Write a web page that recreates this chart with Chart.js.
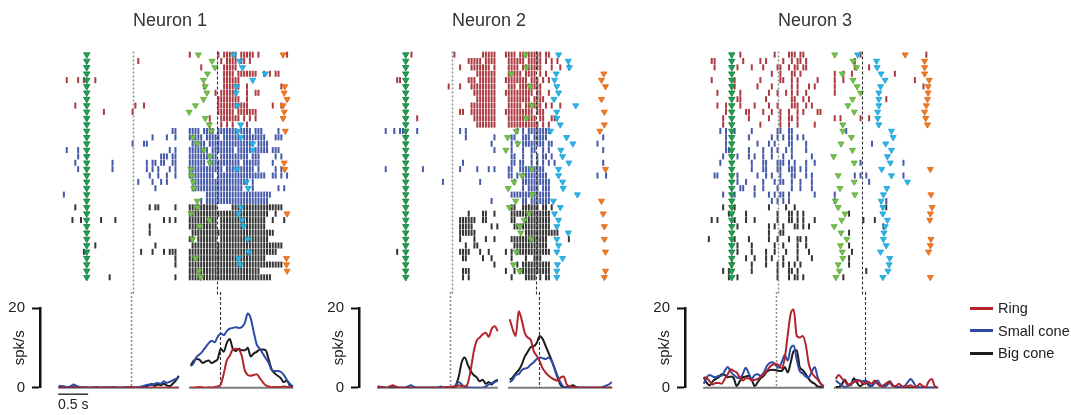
<!DOCTYPE html>
<html>
<head>
<meta charset="utf-8">
<script src="https://cdn.jsdelivr.net/npm/chart.js@4.4.1/dist/chart.umd.min.js"></script>
<style>
  html, body { margin: 0; padding: 0; background: #fff; }
  body { width: 1071px; height: 415px; position: relative; overflow: hidden; font-family: 'Liberation Sans', Arial, sans-serif; }
  .box { position: absolute; }
  #legend { position: absolute; left: 970px; top: 297px; }
  .item { height: 22.5px; display: flex; align-items: center; font-size: 14.5px; color: #222; }
  .swatch { width: 23px; height: 3px; margin-right: 5px; }
</style>
</head>
<body>
<div class="box" style="left:40px;top:0;width:260px;height:295px"><canvas id="raster1"></canvas></div>
<div class="box" style="left:359px;top:0;width:260px;height:295px"><canvas id="raster2"></canvas></div>
<div class="box" style="left:685px;top:0;width:260px;height:295px"><canvas id="raster3"></canvas></div>
<div class="box" style="left:0;top:292px;width:300px;height:123px"><canvas id="psth1"></canvas></div>
<div class="box" style="left:319px;top:292px;width:300px;height:123px"><canvas id="psth2"></canvas></div>
<div class="box" style="left:645px;top:292px;width:300px;height:123px"><canvas id="psth3"></canvas></div>
<div id="legend"></div>
<script>
// time axis (s): 0 = aligned event (green column)
const BIN = 0.05;
const RASTER_START = -0.45;   // time of spike bin 0
const PRE_START = -0.40;      // first PSTH bin, first segment
const POST_START = 1.80;      // first PSTH bin, second segment
const CUE_TIME = 0.8;         // grey dotted line
const CONTACT_TIME = 2.28;    // black dashed line
const X_MIN = -0.712, X_MAX = 3.621;
const SEGMENTS = [[-0.41, 1.60], [1.77, 3.51]];
const SCALE_BAR = 0.5;

const conditions = ['Ring', 'Small cone', 'Big cone'];
const lineColors = ['#b3232a', '#2d4ca6', '#1c1c1c'];
const tickColors = ['rgba(158,24,32,0.85)', 'rgba(36,60,154,0.85)', 'rgba(16,16,16,0.85)'];

// ---- Neuron 1: spike bins per trial ----
const n1RingSpikes = [
  [45,55,57,58,59,60,61,63,64,65,66,67,69,79],
  [27,56,58,59,60,61,63,64,66],
  [49,57,58,59,60,61],
  [57,58,59,60,62,63,64,65,66,67,68,71,73,75,76],
  [2,6,8,12,57,58,59,60,61,62],
  [50,57,58,59,60,61,62,65,77],
  [54,56,57,58,59,60,61,65,68,69],
  [55,56,57,58,59,60,61,62,65],
  [5,26,29,55,56,57,58,59,60,61,62,63,64,65,74,77],
  [15,25,55,56,57,58,59,60,62,63,64,65,66,67,68],
  [52,56,57,58,59,60,61,62,64,66,68],
  [52,56,58,60,65]
];
const n1SmallSpikes = [
  [39,40,45,46,47,48,50,51,52,53,55,56,57,58,59,60,61,63,64,65,66,68,69,70,76],
  [32,37,40,45,46,47,48,49,51,52,53,54,55,57,58,59,60,61,62,64,65,66,67,68,69,70,71,75,76,77],
  [25,29,30,46,47,48,49,50,52,53,54,55,56,57,58,59,60,61,62,63,64,65,66,67,69,70,71,72],
  [2,6,38,40,45,46,47,48,49,50,51,53,54,55,56,57,58,59,60,62,63,64,65,66,68,69,70,71,72,74,75,76],
  [6,35,36,37,39,40,45,46,47,48,49,50,51,52,53,54,56,57,58,59,60,61,62,63,64,65,67,68,69,75,77],
  [5,18,30,32,33,35,36,39,40,45,46,47,48,49,50,52,53,54,55,56,57,58,59,60,61,62,64,65,66,67,68,69,74],
  [6,18,30,32,34,38,40,45,46,47,48,49,50,51,52,53,54,55,56,58,59,60,61,62,63,64,65,66,67,69,75,77],
  [31,34,37,40,45,46,47,48,49,50,51,52,53,55,56,57,58,59,60,61,62,63,64,65,66,67,68,69,70,71,74,75,77,79],
  [27,32,35,37,46,47,48,49,50,51,52,53,54,55,56,57,58,59,60,61,62,63,64,65,67],
  [33,46,47,48,49,50,51,52,53,54,55,56,57,58,59,60,61,62,63,67,76,78],
  [1,51,52,53,54,55,56,57,58,59,60,61,62,63,64,65,66,67,68,69,70,71,72,73],
  [49,51,52,53,54,55,56,57,58,59,60,61,62,63,64,65,66,67,68,69,70,71,72]
];
const n1BigSpikes = [
  [5,31,33,34,40,45,46,47,48,49,50,51,52,53,54,60,61,62,63,64,65,66,67,68,69,70,71,72,73,74,75,76,77],
  [45,46,47,48,49,50,51,52,53,54,55,56,57,58,59,60,61,62,63,64,65,66,67,68,69,70,71,72,75],
  [4,7,14,19,36,38,40,45,46,47,48,49,50,51,52,53,54,56,57,58,59,60,61,62,63,64,65,66,67,68,69,70,71,74,78],
  [31,45,46,47,48,49,50,51,52,53,54,56,57,58,59,60,61,62,63,64,65,66,67,68,69,70,71],
  [31,46,47,48,49,50,51,52,53,54,55,56,57,58,59,60,61,62,63,64,65,66,67,68,69,70,71,72,73,74],
  [45,46,48,49,50,51,52,53,54,56,57,58,59,60,61,62,63,64,65,66,67,68,69,70,71,72],
  [12,33,46,47,48,49,50,51,52,53,54,55,56,57,58,59,60,61,62,63,64,65,66,67,68,69,70,71,72,73,74,75,76,77],
  [8,28,32,36,38,39,40,45,46,47,48,49,50,51,52,53,54,55,56,57,58,59,60,61,62,63,64,65,66,67,68,69,70,71,72,73,74,75],
  [40,45,46,47,48,49,50,51,52,53,54,55,56,57,58,59,60,61,62,63,64,65,66,67,68,69,70,71],
  [40,45,46,47,48,49,50,51,52,53,54,55,56,57,58,59,60,61,62,63,64,65,66,67,68,69,70,71,72,73,74,75,76,77],
  [45,46,47,48,49,50,51,52,53,54,55,56,57,58,59,60,61,62,63,64,65,66,67,68,69],
  [17,40,45,46,47,48,49,50,51,52,53,54,55,56,57,58,59,60,61,62,63,64,65,66,67,68,69,70,71,72,73]
];
// event markers per trial (s), rows: Ring, Small cone, Big cone
const n1Green = [1.95,2.19,2.24,2.11,2.04,2.07,2.10,2.04,1.90,1.79,2.07,2.14, 2.18,1.86,1.93,2.04,2.15,2.15,1.82,1.83,1.86,1.87,null,1.93, 1.93,1.82,2.14,1.97,null,1.85,null,null,1.90,null,1.96,1.99];
const n1Cyan = [2.57,2.67,2.72,3.12,2.90,2.62,2.61,null,2.63,null,null,2.69, 2.64,2.69,2.90,2.90,null,null,2.62,null,2.79,2.82,null,null, 2.69,2.65,2.72,2.74,null,2.82,null,2.83,2.65,2.68,null,null];
const n1Orange = [3.43,null,null,null,null,3.46,3.45,3.50,3.43,3.45,3.43,null, 3.47,null,null,null,null,3.45,3.46,null,null,null,null,null, null,3.50,null,null,null,null,null,null,3.49,3.49,3.50,null];
// PSTH (spk/s), first and second segment
const n1RingPre = [0.1,0.1,0,0,0,0.1,0,0,0,0, 0,0,0.1,0,0,0,0.1,0,0,0, 0,0,0,0.1,0.2,0.1,0,0,0,0, 0,0,0.1,0,0,0,0,0.1,0,0, 0.1];
const n1RingPost = [0.1,0,0.1,0.2,0.1,0,0.1,0,0.2,0.3, 0.8,3.5,6.8,8.0,9.6,9.8,9.6,8.0,4.4,3.2, 3.0,3.2,3.4,2.4,1.4,0.6,0.3,0.1,0.2,0.2, 0.2,0.3,0.2,0.1,0];
const n1SmallPre = [0.5,0.4,0.3,0.2,0.4,0.8,0.4,0.2, 0.1,0.1,0,0,0.1,0,0,0.1,0,0, 0,0.1,0,0,0.1,0.1,0,0,0.1, 0.2,0.4,0.6,0.8,0.6,1.0,1.2,1.0,1.6,1.2,1.5,1.8,2.2,2.6];
const n1SmallPost = [5.4,6.2,7.8,8.4,9.2,10.2,11.2,11.8,11.4,12.8, 13.6,13.2,14.2,14.8,15.0,15.2,15.0,15.2,16.2,18.6, 17.4,14.0,10.8,9.8,8.6,7.4,6.2,4.4,4.2,4.2, 4.0,3.2,2.0,1.0,0.3];
const n1BigPre = [0.2,0.1,0.1,0,0.1,0.2,0.1,0,0,0, 0,0,0,0.1,0,0,0,0,0.1,0, 0,0,0,0,0.1,0,0,0,0.1, 0.2,0.6,0.9,0.5,0.8,0.6,1.0,0.6,0.4,1.0,1.8,3.0];
const n1BigPost = [5.6,6.8,7.2,7.0,6.2,6.6,6.8,6.2,6.6,7.2, 9.8,9.0,11.2,12.2,9.8,9.2,9.8,9.4,9.4,10.0, 7.8,8.6,9.0,9.6,9.6,9.4,7.0,4.6,3.6,3.0, 2.4,1.4,1.8,0.6,0.2];

// ---- Neuron 2 ----
const n2RingSpikes = [
  [11,26,36,37,38,39,40,44,45,46,47,49,50,51,52,53,54,55,56,58,59],
  [31,32,33,34,35,37,38,39,40,45,46,47,48,49,50,52,53,54,55,56,58,60,62],
  [28,32,33,34,35,36,37,38,40,45,46,47,48,50,51,52,53,54,55,56,60,63,66],
  [34,35,36,37,38,39,40,45,46,47,48,49,51,52,53,54,56,58],
  [6,7,31,32,33,35,36,37,38,39,40,44,45,46,47,48,49,50,51,53,54,55,57,59],
  [24,28,32,33,34,35,36,37,38,39,40,45,46,47,49,50,51,52,53,54,55,56],
  [33,34,35,36,37,38,39,40,44,45,46,47,48,49,50,51,52,53,55,56,59],
  [34,35,36,37,38,39,40,45,46,47,48,49,50,51,52,54,55,56,57],
  [32,33,34,35,36,37,38,39,40,45,46,47,48,49,51,52,53,54,55,56,58,60,63],
  [28,29,32,33,34,35,36,37,38,39,40,44,45,46,47,48,49,50,51,52,53,55,56,57],
  [13,33,34,35,36,37,38,39,40,45,46,47,48,49,50,51,52,53,54,56,57,60,61],
  [34,35,36,37,38,39,40,45,46,47,48,49,50,51,52,53,54,55,57,59]
];
const n2SmallSpikes = [
  [2,5,7,8,13,28,30,48,50,52,53,54,55,56,57,58,59],
  [30,40,46,47,50,51,52,54,55,56,57,58,78],
  [39,46,48,50,51,52,53,54,55,56,57,59,60,76],
  [40,46,50,53,54,57,59,78],
  [46,47,50,53,55,57,58,60],
  [29,46,47,49,50,53,55,57,59,61,78],
  [2,15,28,34,38,40,45,46,49,50,51,52,53,54,55,56,57],
  [45,46,48,50,51,52,53,54,55,56,57,58,76,79],
  [22,35,47,50,51,52,53,54,55,56,57,58,59],
  [50,52,53,54,55,57,58,59],
  [46,47,48,49,50,51,52,53,54,55,56,57,58,59],
  [39,50,51,53,54,55,56,57,58,59]
];
const n2BigSpikes = [
  [46,47,50,51,52,53,54,55,57,58,60],
  [31,36,37,40,46,47,48,49,50,51,52,53,54,55,56,57,58,59],
  [28,29,30,31,32,33,36,37,46,47,51,52,53,54,55,56,57,58,59],
  [28,29,30,31,32,39,41,47,48,49,50,51,52,53,54,55,56,57,58,59],
  [28,29,30,31,32,33,51,52,53,54,55,56,57,58,59,60,61,62],
  [28,33,37,40,46,47,48,49,50,51,52,53,54,55,56,57,58,66],
  [30,33,34,47,48,49,50,51,52,53,54,55,56,57,58],
  [6,28,29,30,31,35,38,44,46,48,49,50,51,52,53,54,55,56,57,58,59],
  [29,30,36,39,46,51,54,55,56],
  [40,48,50,51,52,53,54,55,56,57,58,59],
  [29,30,31,44,47,49,50,51,52,53,54,55,56,57,58,59],
  [29,31,46,51,52,53,54,56,58,59]
];
const n2Green = [2.09,null,2.11,1.84,null,2.17,null,null,2.20,null,2.11,null, 1.93,1.78,1.96,1.75,null,null,2.20,2.03,1.89,1.79,2.21,1.92, 1.81,2.15,2.07,1.99,2.01,2.19,null,1.93,null,1.88,1.99,null];
const n2Cyan = [2.67,2.84,2.86,2.63,2.60,2.64,2.67,2.59,2.97,2.64,2.64,2.70, 2.53,2.81,2.92,2.71,2.74,2.85,2.67,2.67,2.74,2.75,3.00,2.58, 2.70,2.60,2.67,2.64,2.84,2.64,2.67,2.64,2.74,2.65,2.64,2.64];
const n2Orange = [null,null,null,3.46,3.42,3.49,null,3.42,null,3.47,null,3.47, 3.39,null,null,null,null,null,3.49,null,null,null,null,3.42, null,3.45,null,3.47,null,3.47,null,3.49,null,null,3.49,3.47];
const n2RingPre = [0.3,0.1,0,0,0.3,0.6,0.3,0,0,0, 0,0,0,0,0,0,0,0,0,0, 0,0,0.1,0.2,0.1,0.3,0.2,0.6,0.4,0.3, 1.0,4.5,9.0,11.8,12.6,13.4,13.8,12.8,14.8,15.4, 14.2];
const n2RingPost = [17.2,14.6,13.0,19.2,17.0,13.8,12.6,12.0,9.2,8.0, 6.6,4.8,3.8,3.0,2.4,2.0,1.8,2.6,2.8,0.8, 0.4,0.2,0.1,0,0,0,0,0,0,0, 0,0,0,0,0];
const n2SmallPre = [0.4,0.2,0.1,0,0.2,0.5,0.2,0,0,0, 0.3,0.6,0.2,0,0,0,0,0,0,0, 0,0.3,0,0,0,0,0.5,1.4,0.8,0.2, 0.1,0,0,0,0,0,0.3,0.8,1.2,1.4, 1.8];
const n2SmallPost = [1.4,2.0,3.2,3.4,4.4,4.8,5.0,5.8,6.4,7.2, 7.6,7.4,7.2,7.6,6.6,4.8,2.8,1.2,0.2,0.1, 0,0,0,0,0,0,0,0,0,0, 0,0.2,0.5,0.8,1.4];
const n2BigPre = [0,0.2,0,0,0,0.3,0.1,0,0,0, 0,0,0,0,0,0,0,0,0,0, 0,0,0,0,0,0.2,0.6,2.8,6.4,7.6, 5.8,4.2,3.2,2.6,1.6,2.0,1.0,1.4,0.8,1.6, 2.0];
const n2BigPost = [2.0,2.6,3.6,4.4,5.8,7.8,9.0,10.2,10.4,11.2, 13.0,12.2,10.4,8.6,6.8,4.6,2.4,0.6,0.2,0.1, 0.2,0.6,0.2,0,0,0,0,0,0,0, 0,0,0,0,0];

// ---- Neuron 3 ----
const n3RingSpikes = [
  [12,24,29,30,31,33,34,54,77],
  [2,3,13,19,21,27,30,32,33,35,52],
  [3,11,16,20,25,26,29,31,32,34,35,52,57],
  [23,26,30,31,33,45,48,51,66],
  [2,10,19,26,27,30,32,39,45,48,73],
  [10,18,23,30,32,36,38,45,76],
  [4,12,22,25,28,30,32,35,45],
  [11,12,21,30,31,34,36,63],
  [4,7,12,17,22,25,30,31,32,35,37],
  [7,14,15,20,23,26,29,32,34,39,40],
  [6,15,22,26,29,30,32,45,47,54,57],
  [6,19,26,29,32,38]
];
const n3SmallSpikes = [
  [5,7,10,16,25,26,29,30,49],
  [7,15,23,25,27,29,30,32,34],
  [7,18,22,24,29,30,35,58],
  [7,8,15,20,23,25,28,30,35],
  [6,11,15,17,20,23,27,30,37],
  [5,16,20,21,25,26,27,29,31,35,38,54,69],
  [16,20,21,25,26,29,30,31,33,35],
  [3,4,11,18,21,23,26,30,31,35,37,52,54,56,69],
  [11,14,20,24,26,27,30,33,37,57],
  [12,13,17,20,25,30,33,37],
  [6,10,17,22,24,26,27,29,38,45],
  [23,25,27,29,45,63]
];
const n3BigSpikes = [
  [6,10,22,28,31,63],
  [8,14,25,29,30,32,34,50],
  [2,4,10,14,17,25,29,30,32,34,38,55,59],
  [11,22,24,27,31,32,34,36,62],
  [22,26,27,50],
  [1,10,15,22,25,29,32,33,35],
  [11,16,24,27,32,35,50],
  [11,16,21,24,28,32,36,51],
  [14,17,21,23,27,32,37,50],
  [9,16,21,25,27,29,31,33,50],
  [6,8,16,25,29,30,32,56],
  [8,11,25,29,31,32,34,48]
];
const n3Green = [1.80,2.12,2.18,1.93,2.12,2.19,2.25,2.11,2.03,2.14,null,1.94, 1.94,2.09,1.91,2.11,1.78,2.14,null,1.86,2.14,1.89,2.15,1.81, 1.86,1.98,1.92,1.79,1.91,2.01,1.90,1.93,1.94,1.86,1.88,1.82];
const n3Cyan = [2.20,2.53,2.54,2.61,2.68,2.60,2.57,2.57,2.57,2.55,2.55,2.57, 2.79,2.82,2.69,2.79,2.72,2.77,2.62,2.79,3.07,2.71,2.65,2.61, 2.64,2.64,2.72,2.68,2.66,2.65,2.70,2.60,2.76,2.75,2.73,2.64];
const n3Orange = [3.03,3.37,3.37,3.37,3.45,3.43,3.43,3.42,3.40,3.37,3.39,3.42, null,null,null,null,null,null,3.47,null,null,null,3.48,null, 3.50,3.47,3.46,null,null,3.48,3.47,3.44,null,null,null,3.47];
const n3RingPre = [2.6,2.4,1.6,0.8,1.2,1.2,1.0,2.2,3.4,4.6, 4.2,3.8,2.6,1.8,2.4,2.4,1.8,2.0,2.2,2.8, 3.4,4.2,5.2,5.8,6.0,5.6,4.9,7.4,13.2,18.6, 19.6,13.0,12.6,13.0,10.8,6.0,3.8,2.8,2.0,1.0, 0.4];
const n3RingPost = [2.2,3.2,2.4,1.6,0.8,1.0,1.4,1.6,1.8,1.0, 1.2,1.4,1.0,1.8,1.0,0.4,0.6,1.2,1.4,0.4, 0.4,1.0,0.4,0.2,0.4,0.6,0.2,0.2,1.0,0.4, 0.2,1.6,2.2,0.4,0];
const n3SmallPre = [1.0,2.6,3.2,2.8,2.6,3.0,3.0,4.2,5.2,4.0, 3.2,2.6,2.4,3.4,5.0,3.6,2.2,3.2,3.4,3.0, 3.8,5.4,6.2,6.4,5.6,5.0,6.4,8.2,6.8,10.0, 10.6,7.0,4.2,3.6,2.8,2.6,4.0,5.2,2.6,1.0, 0.2];
const n3SmallPost = [1.8,1.2,0.6,0.2,0.4,0.8,1.4,2.0,1.8,1.6, 1.8,1.0,0.4,1.2,1.8,0.6,0.2,0.6,1.2,0.6, 0.2,0.1,0.2,0.4,1.4,2.2,1.2,0.2,0.1,0, 0,0,0,0,0];
const n3BigPre = [2.6,1.2,0.6,1.6,2.2,2.6,3.4,3.2,2.6,2.8, 2.4,0.4,1.6,2.6,2.8,3.0,2.0,0.4,1.4,2.4, 3.0,4.0,4.4,4.5,4.4,4.2,4.2,5.2,3.8,6.4, 9.2,9.4,5.2,4.4,3.4,2.2,1.4,1.0,0.3,0.2, 0.1];
const n3BigPost = [0.2,0.2,0.8,2.0,0.8,0.6,2.4,1.4,0.4,0.8, 1.4,0.6,0.4,1.6,1.0,0.4,0.6,1.0,1.6,0.6, 0.2,0.1,0,0,0,0,0,0,0,0, 0,0,0,0,0];

Chart.defaults.font.family = "'Liberation Sans', Arial, sans-serif";
Chart.defaults.color = '#222';

// vertical event lines + baselines + scale bar
const panelDecor = {
  id: 'panelDecor',
  beforeDatasetsDraw(chart, args, opts) {
    const {ctx, scales: {x, y}} = chart;
    ctx.save();
    if (opts.baseline) {
      ctx.strokeStyle = '#7d7d7d';
      ctx.lineWidth = 2;
      SEGMENTS.forEach(s => {
        ctx.beginPath();
        ctx.moveTo(x.getPixelForValue(s[0]), y.getPixelForValue(0));
        ctx.lineTo(x.getPixelForValue(s[1]), y.getPixelForValue(0));
        ctx.stroke();
      });
    }
    if (opts.behind) drawEvents(chart, opts);
    ctx.restore();
  },
  afterDatasetsDraw(chart, args, opts) {
    if (!opts.behind) drawEvents(chart, opts);
    if (opts.scaleBar) {
      const {ctx, scales: {x}, chartArea} = chart;
      const x0 = x.getPixelForValue(SEGMENTS[0][0]);
      const x1 = x.getPixelForValue(SEGMENTS[0][0] + SCALE_BAR);
      const yb = chartArea.bottom + 6.5;
      ctx.save();
      ctx.strokeStyle = '#333';
      ctx.lineWidth = 1.5;
      ctx.beginPath();
      ctx.moveTo(x0, yb);
      ctx.lineTo(x1, yb);
      ctx.stroke();
      ctx.fillStyle = '#222';
      ctx.font = "14px 'Liberation Sans', Arial, sans-serif";
      ctx.textBaseline = 'top';
      ctx.fillText(SCALE_BAR + ' s', x0, yb + 4);
      ctx.restore();
    }
  }
};

function drawEvents(chart, opts) {
  const {ctx, scales: {x, y}} = chart;
  const top = opts.top === undefined ? 0 : y.getPixelForValue(opts.top);
  const bottom = opts.bottom === undefined ? chart.height : y.getPixelForValue(opts.bottom);
  const vline = (t) => {
    const px = Math.round(x.getPixelForValue(t)) + 0.5;
    ctx.beginPath();
    ctx.moveTo(px, top);
    ctx.lineTo(px, bottom);
    ctx.stroke();
  };
  ctx.save();
  ctx.strokeStyle = '#8c8c8c';
  ctx.lineWidth = 1.5;
  ctx.setLineDash([2, 2]);
  vline(CUE_TIME);
  ctx.strokeStyle = '#333';
  ctx.lineWidth = 1.1;
  ctx.setLineDash([3, 2]);
  vline(CONTACT_TIME);
  ctx.restore();
}

function triangles(times, fill, stroke, r) {
  const pts = [];
  times.forEach((t, row) => { if (t !== null) pts.push({x: t, y: row}); });
  return {
    data: pts, order: 0, pointStyle: 'triangle', pointRotation: 180, pointRadius: r,
    pointBackgroundColor: fill, pointBorderColor: stroke, pointBorderWidth: 0.8
  };
}

function rasterChart(id, title, spikes, green, cyan, orange) {
  const datasets = [];
  let row = 0;
  spikes.forEach((trials, c) => {
    const pts = [];
    trials.forEach(bins => {
      bins.forEach(b => pts.push({x: RASTER_START + b * BIN, y: row}));
      row++;
    });
    datasets.push({
      data: pts, order: 1, pointStyle: 'line', pointRotation: 90, pointRadius: 3,
      pointBorderWidth: 2, pointBorderColor: tickColors[c]
    });
  });
  const alignTimes = green.map(() => 0);
  datasets.push(triangles(alignTimes, '#1fa24e', '#0f7a3a', 3.7));
  datasets.push(triangles(green, '#76c14a', '#5aa83a', 3.5));
  datasets.push(triangles(cyan, '#2ab6ea', '#1a9ed0', 3.5));
  datasets.push(triangles(orange, '#f47a22', '#dc6414', 3.5));

  return new Chart(document.getElementById(id), {
    type: 'scatter',
    data: {datasets},
    options: {
      responsive: true, maintainAspectRatio: false, animation: false, events: [],
      devicePixelRatio: 1,
      layout: {padding: 0},
      clip: false,
      scales: {
        x: {type: 'linear', display: false, min: X_MIN, max: X_MAX},
        y: {type: 'linear', display: false, reverse: true, min: -2.43, max: 36.84}
      },
      plugins: {
        legend: {display: false},
        tooltip: {enabled: false},
        title: {
          display: true, text: title, color: '#333',
          font: {size: 18, weight: 'normal'}, padding: {top: 10.2, bottom: 7.4}
        },
        panelDecor: {top: -0.5, behind: false}
      }
    },
    plugins: [panelDecor]
  });
}

function psthPoints(pre, post) {
  const pts = pre.map((v, k) => ({x: PRE_START + k * BIN, y: v}));
  pts.push({x: (SEGMENTS[0][1] + SEGMENTS[1][0]) / 2, y: null});
  post.forEach((v, k) => pts.push({x: POST_START + k * BIN, y: v}));
  return pts;
}

function psthChart(id, series, withScaleBar) {
  return new Chart(document.getElementById(id), {
    type: 'line',
    data: {
      datasets: series.map((s, c) => ({
        label: conditions[c],
        data: psthPoints(s[0], s[1]),
        borderColor: lineColors[c],
        borderWidth: 2,
        pointRadius: 0,
        cubicInterpolationMode: 'monotone',
        spanGaps: false
      }))
    },
    options: {
      responsive: true, maintainAspectRatio: false, animation: false, events: [],
      devicePixelRatio: 1,
      layout: {padding: {top: 10.7, bottom: 27.3, left: 0, right: 0}},
      scales: {
        x: {type: 'linear', display: false, min: X_MIN, max: X_MAX},
        y: {
          min: 0, max: 20,
          afterFit(scale) { scale.width = 40; },
          ticks: {stepSize: 20, padding: 7, color: '#222', font: {size: 15}},
          grid: {drawOnChartArea: false, drawTicks: true, tickLength: 8, tickWidth: 2, tickColor: '#111'},
          border: {display: true, width: 2.5, color: '#111'},
          title: {display: true, text: 'spk/s', color: '#222', font: {size: 15}, padding: {top: 11, bottom: 0}}
        }
      },
      plugins: {
        legend: {display: false},
        tooltip: {enabled: false},
        panelDecor: {bottom: 0, behind: true, baseline: true, scaleBar: withScaleBar}
      }
    },
    plugins: [panelDecor]
  });
}

rasterChart('raster1', 'Neuron 1', [n1RingSpikes, n1SmallSpikes, n1BigSpikes], n1Green, n1Cyan, n1Orange);
rasterChart('raster2', 'Neuron 2', [n2RingSpikes, n2SmallSpikes, n2BigSpikes], n2Green, n2Cyan, n2Orange);
rasterChart('raster3', 'Neuron 3', [n3RingSpikes, n3SmallSpikes, n3BigSpikes], n3Green, n3Cyan, n3Orange);

psthChart('psth1', [[n1RingPre, n1RingPost], [n1SmallPre, n1SmallPost], [n1BigPre, n1BigPost]], true);
psthChart('psth2', [[n2RingPre, n2RingPost], [n2SmallPre, n2SmallPost], [n2BigPre, n2BigPost]], false);
const psth3 = psthChart('psth3', [[n3RingPre, n3RingPost], [n3SmallPre, n3SmallPost], [n3BigPre, n3BigPost]], false);

// legend from the last PSTH chart's datasets
const legendBox = document.getElementById('legend');
psth3.data.datasets.forEach(ds => {
  const item = document.createElement('div');
  item.className = 'item';
  const sw = document.createElement('span');
  sw.className = 'swatch';
  sw.style.background = ds.borderColor;
  const label = document.createElement('span');
  label.textContent = ds.label;
  item.appendChild(sw);
  item.appendChild(label);
  legendBox.appendChild(item);
});
</script>
</body>
</html>
